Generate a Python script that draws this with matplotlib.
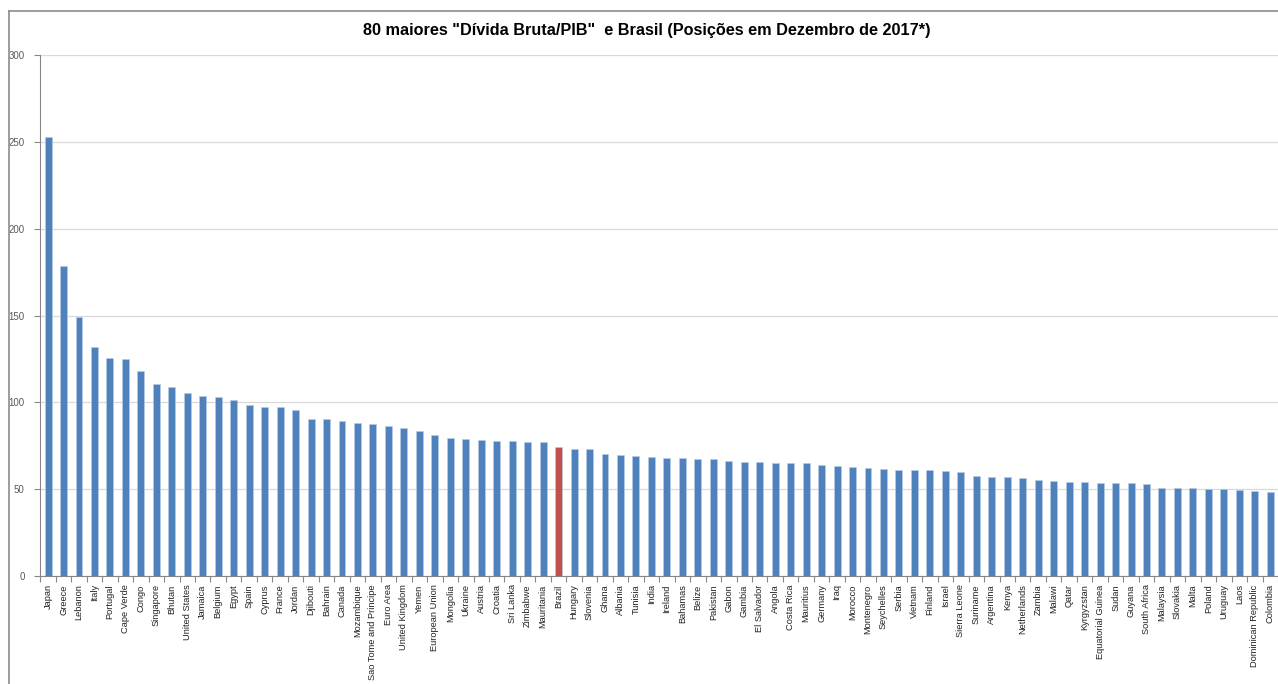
import numpy as np
import matplotlib
matplotlib.use('Agg')
import matplotlib.pyplot as plt
from matplotlib.lines import Line2D

paises = ['Japan', 'Greece', 'Lebanon', 'Italy', 'Portugal', 'Cape Verde', 'Congo',
          'Singapore', 'Bhutan', 'United States', 'Jamaica', 'Belgium', 'Egypt',
          'Spain', 'Cyprus', 'France', 'Jordan', 'Djibouti', 'Bahrain', 'Canada',
          'Mozambique', 'Sao Tome and Principe', 'Euro Area', 'United Kingdom',
          'Yemen', 'European Union', 'Mongolia', 'Ukraine', 'Austria', 'Croatia',
          'Sri Lanka', 'Zimbabwe', 'Mauritania', 'Brazil', 'Hungary', 'Slovenia',
          'Ghana', 'Albania', 'Tunisia', 'India', 'Ireland', 'Bahamas', 'Belize',
          'Pakistan', 'Gabon', 'Gambia', 'El Salvador', 'Angola', 'Costa Rica',
          'Mauritius', 'Germany', 'Iraq', 'Morocco', 'Montenegro', 'Seychelles',
          'Serbia', 'Vietnam', 'Finland', 'Israel', 'Sierra Leone', 'Suriname',
          'Argentina', 'Kenya', 'Netherlands', 'Zambia', 'Malawi', 'Qatar',
          'Kyrgyzstan', 'Equatorial Guinea', 'Sudan', 'Guyana', 'South Africa',
          'Malaysia', 'Slovakia', 'Malta', 'Poland', 'Uruguay', 'Laos',
          'Dominican Republic', 'Colombia']

divida_pib = [253.0, 178.6, 149.2, 131.7, 125.7, 125.2, 117.9, 110.8, 108.7, 105.4,
              103.5, 103.1, 101.4, 98.3, 97.5, 97.2, 95.8, 90.6, 90.4, 89.5,
              88.1, 87.4, 86.6, 85.1, 83.4, 81.4, 79.3, 78.9, 78.3, 77.8,
              77.6, 77.4, 77.2, 74.1, 73.3, 73.3, 70.4, 69.7, 68.9, 68.5,
              67.8, 67.8, 67.2, 67.2, 66.2, 65.5, 65.5, 65.1, 65.1, 64.9,
              63.9, 63.5, 62.8, 62.4, 61.8, 61.2, 61.2, 61.2, 60.7, 60.1,
              57.4, 56.9, 56.9, 56.5, 55.3, 54.5, 54.1, 54.0, 53.6, 53.4,
              53.4, 53.0, 50.7, 50.7, 50.7, 50.3, 50.3, 49.7, 48.8, 48.2]

destaque = 'Brazil'
yticks = [0, 50, 100, 150, 200, 250, 300]

W, H = 1278, 684
fig = plt.figure(figsize=(W / 100, H / 100), dpi=100)
plt.rcParams['font.family'] = ['Liberation Sans', 'DejaVu Sans']

# moldura do grafico (so topo e esquerda aparecem no recorte)
y_topo = (H - 10.5) / H
x_esq = 8.5 / W
fig.add_artist(Line2D([x_esq, 1.0], [y_topo, y_topo], transform=fig.transFigure,
                      color='#8c8c8c', linewidth=1.2))
fig.add_artist(Line2D([x_esq, x_esq], [0.0, y_topo], transform=fig.transFigure,
                      color='#8c8c8c', linewidth=1.2))

ax = fig.add_axes([40 / W, (H - 576) / H, (W - 40) / W, (576 - 55) / H])

x = np.arange(len(paises))
cores = ['#C0504D' if p == destaque else '#4F81BD' for p in paises]
ax.bar(x, divida_pib, width=0.45, color=cores, edgecolor='#B9CDE5',
       linewidth=0.4, zorder=3)

ax.set_xlim(-0.52, len(paises) - 0.55)
ax.set_ylim(0, 300)
ax.set_yticks(yticks)
ax.set_yticklabels([str(v) for v in yticks], fontsize=7, color='#595959')
ax.grid(axis='y', color='#D9D9D9', linewidth=0.9, zorder=0)

ax.set_xticks(x)
ax.set_xticklabels(paises, rotation=90, fontsize=6.7, color='#222222')
ax.set_xticks(np.arange(len(paises) + 1) - 0.5, minor=True)
ax.tick_params(axis='x', which='major', length=0, pad=6)
ax.tick_params(axis='x', which='minor', length=4, color='#868686', width=0.8)
ax.tick_params(axis='y', length=4, color='#868686', width=0.8, pad=7)

for lado in ['top', 'right']:
    ax.spines[lado].set_visible(False)
ax.spines['left'].set_color('#868686')
ax.spines['bottom'].set_color('#868686')

fig.text(0.506, (H - 31) / H, '80 maiores "Dívida Bruta/PIB"  e Brasil (Posições em Dezembro de 2017*)',
         ha='center', va='center', fontsize=11.7, fontweight='bold')

fig.savefig('out.png', dpi=100)
